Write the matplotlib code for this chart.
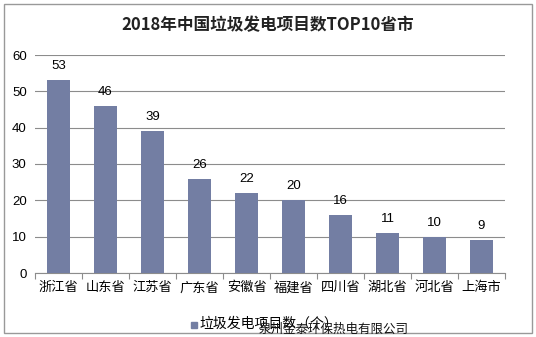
import matplotlib.pyplot as plt
from matplotlib.patches import Rectangle

plt.rcParams['font.family'] = ['Noto Sans CJK SC', 'DejaVu Sans']

provinces = ["浙江省", "山东省", "江苏省", "广东省", "安徽省", "福建省", "四川省", "湖北省", "河北省", "上海市"]
counts = [53, 46, 39, 26, 22, 20, 16, 11, 10, 9]
series_name = "垃圾发电项目数（个）"
bar_color = "#737ea3"

fig = plt.figure(figsize=(5.36, 3.37), dpi=100)
ax = fig.add_axes([35 / 536, 1 - 273 / 337, 470 / 536, 218 / 337])

x = range(len(provinces))
ax.bar(x, counts, width=0.5, color=bar_color, zorder=3)
for i, v in zip(x, counts):
    ax.text(i, v + 2.2, str(v), ha="center", va="bottom", fontsize=9.5, family="Liberation Sans")

ax.set_xlim(-0.5, len(provinces) - 0.5)
ax.set_ylim(0, 60)
ax.set_yticks(range(0, 61, 10))
ax.set_yticklabels([str(t) for t in range(0, 61, 10)], family="Liberation Sans", fontsize=9.5)
ax.yaxis.grid(True, color="#8c8c8c", linewidth=0.8, zorder=0)
ax.tick_params(axis="y", length=0, pad=6)
ax.set_xticks([i + 0.5 for i in range(-1, len(provinces))], minor=False)
ax.set_xticklabels([])
ax.tick_params(axis="x", length=4, color="#8c8c8c", direction="out")
ax.set_xticks(list(x), minor=True)
ax.set_xticklabels(provinces, minor=True, fontsize=9.5)
ax.tick_params(axis="x", which="minor", length=0, pad=6)
for s in ["top", "right", "left"]:
    ax.spines[s].set_visible(False)
ax.spines["bottom"].set_color("#8c8c8c")

fig.text(0.5, 1 - 25 / 337, "2018年中国垃圾发电项目数TOP10省市", ha="center", va="center",
         fontsize=12, fontweight="bold", color="#222222")

# legend
fig.patches.append(Rectangle((191 / 536, 1 - 328 / 337), 6 / 536, 6 / 337,
                             transform=fig.transFigure, color=bar_color))
fig.text(199 / 536, 1 - 324 / 337, series_name, ha="left", va="center", fontsize=10)
fig.text(334 / 536, 1 - 329 / 337, "泉州金泰环保热电有限公司", ha="center", va="center",
         fontsize=9, color="#111111")

fig.patches.append(Rectangle((4 / 536, 4 / 337), 528 / 536, 329 / 337, transform=fig.transFigure,
                             fill=False, edgecolor="#999999", linewidth=1))

fig.savefig("out.png", dpi=100)
